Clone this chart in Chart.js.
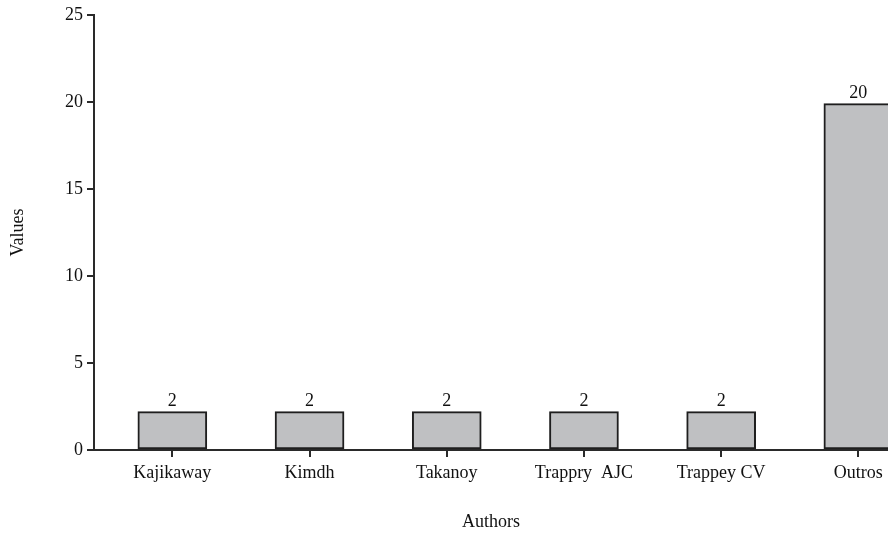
<!DOCTYPE html>
<html>
<head>
    <title>Authors</title>
    <script src="https://cdn.jsdelivr.net/npm/chart.js"></script>
    <style>
        html, body { margin: 0; padding: 0; background: #fff; }
        #wrap { width: 888px; height: 534px; }
    </style>
</head>
<body>
    <div id="wrap"><canvas id="authorsChart" width="888" height="534"></canvas></div>

    <script>
        // Dati
        const authors = ['Kajikaway', 'Kimdh', 'Takanoy', 'Trappry  AJC', 'Trappey CV', 'Outros'];
        const positions = [1, 2, 3, 4, 5, 6];
        const values = [2.2, 2.2, 2.2, 2.2, 2.2, 19.9];
        const valueLabels = ['2', '2', '2', '2', '2', '20'];
        const yTicks = [0, 5, 10, 15, 20, 25];

        const fontFamily = '"Liberation Serif", "Times New Roman", serif';
        const axisColor = '#2a2a2a';

        // Etichette sopra le barre
        const barLabels = {
            id: 'barLabels',
            afterDatasetsDraw(chart) {
                const c = chart.ctx;
                const meta = chart.getDatasetMeta(0);
                c.save();
                c.fillStyle = '#111';
                c.font = '18px ' + fontFamily;
                c.textAlign = 'center';
                c.textBaseline = 'bottom';
                meta.data.forEach((bar, i) => {
                    c.fillText(valueLabels[i], bar.x, bar.y - 1);
                });
                c.restore();
            }
        };

        const ctx = document.getElementById('authorsChart').getContext('2d');
        new Chart(ctx, {
            type: 'bar',
            data: {
                datasets: [{
                    data: positions.map((p, i) => ({ x: p, y: values[i] })),
                    backgroundColor: '#bfc0c2',
                    borderColor: '#1e1e1e',
                    borderWidth: 2,
                    borderSkipped: false,
                    barThickness: 69
                }]
            },
            options: {
                responsive: false,
                animation: false,
                layout: { padding: { top: 14, right: 0, left: 0, bottom: 0 } },
                plugins: {
                    legend: { display: false },
                    tooltip: { enabled: false }
                },
                scales: {
                    x: {
                        type: 'linear',
                        offset: false,
                        min: 0.429,
                        max: 6.216,
                        afterBuildTicks: (scale) => {
                            scale.ticks = positions.map(v => ({ value: v }));
                        },
                        afterFit: (scale) => { scale.height = 84; },
                        ticks: {
                            callback: (v) => authors[positions.indexOf(v)],
                            color: '#111',
                            font: { family: fontFamily, size: 18 },
                            padding: 5,
                            maxRotation: 0,
                            autoSkip: false
                        },
                        grid: {
                            offset: false,
                            drawOnChartArea: false,
                            drawTicks: true,
                            tickLength: 7,
                            color: axisColor,
                            lineWidth: 2
                        },
                        border: { display: true, color: axisColor, width: 2 },
                        title: {
                            display: true,
                            text: 'Authors',
                            color: '#111',
                            font: { family: fontFamily, size: 18 },
                            padding: { top: 0, bottom: 1 }
                        }
                    },
                    y: {
                        min: 0,
                        max: 25,
                        afterBuildTicks: (scale) => {
                            scale.ticks = yTicks.map(v => ({ value: v }));
                        },
                        afterFit: (scale) => { scale.width = 94; },
                        ticks: {
                            color: '#111',
                            font: { family: fontFamily, size: 18 },
                            padding: 4
                        },
                        grid: {
                            drawOnChartArea: false,
                            drawTicks: true,
                            tickLength: 7,
                            color: axisColor,
                            lineWidth: 2
                        },
                        border: { display: true, color: axisColor, width: 2 },
                        title: {
                            display: true,
                            text: 'Values',
                            color: '#111',
                            font: { family: fontFamily, size: 18 },
                            padding: { top: 7, bottom: 0 }
                        }
                    }
                }
            },
            plugins: [barLabels]
        });
    </script>
</body>
</html>
